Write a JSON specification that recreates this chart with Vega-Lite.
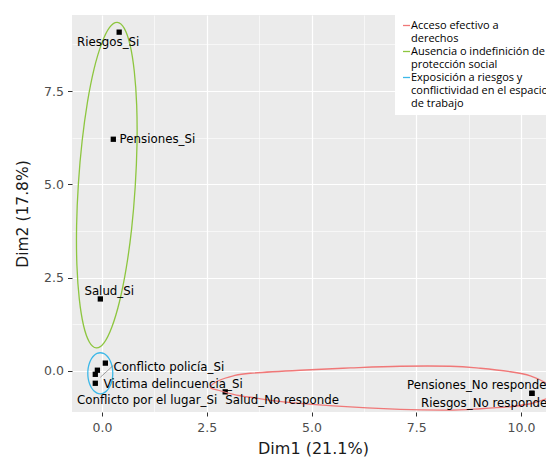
{
  "$schema": "https://vega.github.io/schema/vega-lite/v6.json",
  "autosize": {"type": "none"},
  "padding": {"left": 72, "top": 15, "right": 0, "bottom": 45},
  "width": 474,
  "height": 397,
  "background": "white",
  "config": {
    "view": {"fill": "#EBEBEB", "stroke": null}
  },
  "datasets": {
    "ellipses": [
      {"g": "Acceso efectivo a derechos", "o": 1, "x": 2.585, "y": -0.437},
      {"g": "Acceso efectivo a derechos", "o": 2, "x": 2.776, "y": -0.263},
      {"g": "Acceso efectivo a derechos", "o": 3, "x": 3.134, "y": -0.129},
      {"g": "Acceso efectivo a derechos", "o": 4, "x": 3.539, "y": -0.062},
      {"g": "Acceso efectivo a derechos", "o": 5, "x": 4.733, "y": 0.019},
      {"g": "Acceso efectivo a derechos", "o": 6, "x": 5.926, "y": 0.08},
      {"g": "Acceso efectivo a derechos", "o": 7, "x": 7.119, "y": 0.126},
      {"g": "Acceso efectivo a derechos", "o": 8, "x": 8.313, "y": 0.126},
      {"g": "Acceso efectivo a derechos", "o": 9, "x": 9.029, "y": 0.072},
      {"g": "Acceso efectivo a derechos", "o": 10, "x": 9.745, "y": -0.021},
      {"g": "Acceso efectivo a derechos", "o": 11, "x": 10.222, "y": -0.129},
      {"g": "Acceso efectivo a derechos", "o": 12, "x": 10.604, "y": -0.33},
      {"g": "Acceso efectivo a derechos", "o": 13, "x": 10.795, "y": -0.531},
      {"g": "Acceso efectivo a derechos", "o": 14, "x": 10.747, "y": -0.651},
      {"g": "Acceso efectivo a derechos", "o": 15, "x": 10.604, "y": -0.745},
      {"g": "Acceso efectivo a derechos", "o": 16, "x": 10.222, "y": -0.879},
      {"g": "Acceso efectivo a derechos", "o": 17, "x": 9.673, "y": -0.965},
      {"g": "Acceso efectivo a derechos", "o": 18, "x": 9.029, "y": -1.013},
      {"g": "Acceso efectivo a derechos", "o": 19, "x": 8.241, "y": -1.048},
      {"g": "Acceso efectivo a derechos", "o": 20, "x": 7.119, "y": -1.027},
      {"g": "Acceso efectivo a derechos", "o": 21, "x": 5.52, "y": -0.938},
      {"g": "Acceso efectivo a derechos", "o": 22, "x": 4.327, "y": -0.831},
      {"g": "Acceso efectivo a derechos", "o": 23, "x": 3.539, "y": -0.705},
      {"g": "Acceso efectivo a derechos", "o": 24, "x": 3.134, "y": -0.625},
      {"g": "Acceso efectivo a derechos", "o": 25, "x": 2.776, "y": -0.517},

      {"g": "Ausencia o indefinición de protección social", "o": 1, "x": 0.365, "y": 9.341},
      {"g": "Ausencia o indefinición de protección social", "o": 2, "x": 0.532, "y": 9.18},
      {"g": "Ausencia o indefinición de protección social", "o": 3, "x": 0.671, "y": 8.732},
      {"g": "Ausencia o indefinición de protección social", "o": 4, "x": 0.771, "y": 8.027},
      {"g": "Ausencia o indefinición de protección social", "o": 5, "x": 0.828, "y": 7.118},
      {"g": "Ausencia o indefinición de protección social", "o": 6, "x": 0.835, "y": 6.062},
      {"g": "Ausencia o indefinición de protección social", "o": 7, "x": 0.792, "y": 4.93},
      {"g": "Ausencia o indefinición de protección social", "o": 8, "x": 0.706, "y": 3.802},
      {"g": "Ausencia o indefinición de protección social", "o": 9, "x": 0.578, "y": 2.756},
      {"g": "Ausencia o indefinición de protección social", "o": 10, "x": 0.418, "y": 1.861},
      {"g": "Ausencia o indefinición de protección social", "o": 11, "x": 0.236, "y": 1.177},
      {"g": "Ausencia o indefinición de protección social", "o": 12, "x": 0.048, "y": 0.751},
      {"g": "Ausencia o indefinición de protección social", "o": 13, "x": -0.136, "y": 0.617},
      {"g": "Ausencia o indefinición de protección social", "o": 14, "x": -0.303, "y": 0.777},
      {"g": "Ausencia o indefinición de protección social", "o": 15, "x": -0.442, "y": 1.225},
      {"g": "Ausencia o indefinición de protección social", "o": 16, "x": -0.542, "y": 1.93},
      {"g": "Ausencia o indefinición de protección social", "o": 17, "x": -0.599, "y": 2.839},
      {"g": "Ausencia o indefinición de protección social", "o": 18, "x": -0.606, "y": 3.895},
      {"g": "Ausencia o indefinición de protección social", "o": 19, "x": -0.563, "y": 5.027},
      {"g": "Ausencia o indefinición de protección social", "o": 20, "x": -0.475, "y": 6.156},
      {"g": "Ausencia o indefinición de protección social", "o": 21, "x": -0.348, "y": 7.201},
      {"g": "Ausencia o indefinición de protección social", "o": 22, "x": -0.189, "y": 8.097},
      {"g": "Ausencia o indefinición de protección social", "o": 23, "x": -0.007, "y": 8.78},
      {"g": "Ausencia o indefinición de protección social", "o": 24, "x": 0.181, "y": 9.207},

      {"g": "Exposición a riesgos y conflictividad en el espacio de trabajo", "o": 1, "x": 0.257, "y": -0.062},
      {"g": "Exposición a riesgos y conflictividad en el espacio de trabajo", "o": 2, "x": 0.247, "y": 0.08},
      {"g": "Exposición a riesgos y conflictividad en el espacio de trabajo", "o": 3, "x": 0.217, "y": 0.213},
      {"g": "Exposición a riesgos y conflictividad en el espacio de trabajo", "o": 4, "x": 0.17, "y": 0.327},
      {"g": "Exposición a riesgos y conflictividad en el espacio de trabajo", "o": 5, "x": 0.108, "y": 0.414},
      {"g": "Exposición a riesgos y conflictividad en el espacio de trabajo", "o": 6, "x": 0.036, "y": 0.469},
      {"g": "Exposición a riesgos y conflictividad en el espacio de trabajo", "o": 7, "x": -0.041, "y": 0.488},
      {"g": "Exposición a riesgos y conflictividad en el espacio de trabajo", "o": 8, "x": -0.118, "y": 0.469},
      {"g": "Exposición a riesgos y conflictividad en el espacio de trabajo", "o": 9, "x": -0.19, "y": 0.414},
      {"g": "Exposición a riesgos y conflictividad en el espacio de trabajo", "o": 10, "x": -0.252, "y": 0.327},
      {"g": "Exposición a riesgos y conflictividad en el espacio de trabajo", "o": 11, "x": -0.299, "y": 0.213},
      {"g": "Exposición a riesgos y conflictividad en el espacio de trabajo", "o": 12, "x": -0.329, "y": 0.08},
      {"g": "Exposición a riesgos y conflictividad en el espacio de trabajo", "o": 13, "x": -0.339, "y": -0.062},
      {"g": "Exposición a riesgos y conflictividad en el espacio de trabajo", "o": 14, "x": -0.329, "y": -0.204},
      {"g": "Exposición a riesgos y conflictividad en el espacio de trabajo", "o": 15, "x": -0.299, "y": -0.337},
      {"g": "Exposición a riesgos y conflictividad en el espacio de trabajo", "o": 16, "x": -0.252, "y": -0.451},
      {"g": "Exposición a riesgos y conflictividad en el espacio de trabajo", "o": 17, "x": -0.19, "y": -0.538},
      {"g": "Exposición a riesgos y conflictividad en el espacio de trabajo", "o": 18, "x": -0.118, "y": -0.593},
      {"g": "Exposición a riesgos y conflictividad en el espacio de trabajo", "o": 19, "x": -0.041, "y": -0.612},
      {"g": "Exposición a riesgos y conflictividad en el espacio de trabajo", "o": 20, "x": 0.036, "y": -0.593},
      {"g": "Exposición a riesgos y conflictividad en el espacio de trabajo", "o": 21, "x": 0.108, "y": -0.538},
      {"g": "Exposición a riesgos y conflictividad en el espacio de trabajo", "o": 22, "x": 0.17, "y": -0.451},
      {"g": "Exposición a riesgos y conflictividad en el espacio de trabajo", "o": 23, "x": 0.217, "y": -0.337},
      {"g": "Exposición a riesgos y conflictividad en el espacio de trabajo", "o": 24, "x": 0.247, "y": -0.204}
    ],
    "points": [
      {"n": "Riesgos_Si", "x": 0.41, "y": 9.08},
      {"n": "Pensiones_Si", "x": 0.27, "y": 6.21},
      {"n": "Salud_Si", "x": -0.04, "y": 1.93},
      {"n": "Conflicto policía_Si", "x": 0.08, "y": 0.21},
      {"n": "Victima delincuencia_Si", "x": -0.11, "y": 0.02},
      {"n": "", "x": -0.16, "y": -0.09},
      {"n": "Conflicto por el lugar_Si", "x": -0.16, "y": -0.33},
      {"n": "Salud_No responde", "x": 2.94, "y": -0.56},
      {"n": "Pensiones_No responde", "x": 10.26, "y": -0.6},
      {"n": "Riesgos_No responde", "x": 10.26, "y": -0.6}
    ],
    "labels": [
      {"t": "Riesgos_Si", "x": -0.597, "y": 8.81},
      {"t": "Pensiones_Si", "x": 0.42, "y": 6.21},
      {"t": "Salud_Si", "x": -0.42, "y": 2.14},
      {"t": "Conflicto policía_Si", "x": 0.277, "y": 0.107},
      {"t": "Victima delincuencia_Si", "x": 0.038, "y": -0.338},
      {"t": "Conflicto por el lugar_Si", "x": -0.597, "y": -0.786},
      {"t": "Salud_No responde", "x": 2.943, "y": -0.786},
      {"t": "Pensiones_No responde", "x": 7.279, "y": -0.383},
      {"t": "Riesgos_No responde", "x": 7.613, "y": -0.858}
    ],
    "segments": [
      {"x": -0.04, "y": -0.17, "x2": 0.27, "y2": 0.15}
    ]
  },
  "layer": [
    {
      "data": {"name": "points"},
      "mark": {"type": "square", "size": 28, "color": "black", "opacity": 1, "filled": true},
      "encoding": {
        "x": {
          "field": "x", "type": "quantitative", "title": "Dim1 (21.1%)",
          "scale": {"domain": [-0.716, 10.596], "nice": false, "zero": false},
          "axis": {
            "values": [0, 1.25, 2.5, 3.75, 5, 6.25, 7.5, 8.75, 10],
            "labelExpr": "datum.value % 2.5 == 0 ? format(datum.value, '.1f') : ''",
            "grid": true, "gridColor": "white",
            "gridWidth": {"condition": {"test": "datum.value % 2.5 == 0", "value": 1.2}, "value": 0.6},
            "tickColor": {"condition": {"test": "datum.value % 2.5 == 0", "value": "#333333"}, "value": "transparent"},
            "domain": false, "tickSize": 4, "tickWidth": 1,
            "labelFont": "DejaVu Sans", "labelFontSize": 12.5, "labelColor": "#4D4D4D", "labelPadding": 5,
            "labelOverlap": false, "labelFlush": false,
            "titleFont": "DejaVu Sans", "titleFontSize": 16, "titleFontWeight": "normal", "titleColor": "#1a1a1a", "titlePadding": 7,
            "titleX": 241
          }
        },
        "y": {
          "field": "y", "type": "quantitative", "title": "Dim2 (17.8%)",
          "scale": {"domain": [-1.1, 9.54], "nice": false, "zero": false},
          "axis": {
            "values": [0, 1.25, 2.5, 3.75, 5, 6.25, 7.5, 8.75],
            "labelExpr": "datum.value % 2.5 == 0 ? format(datum.value, '.1f') : ''",
            "grid": true, "gridColor": "white",
            "gridWidth": {"condition": {"test": "datum.value % 2.5 == 0", "value": 1.2}, "value": 0.6},
            "tickColor": {"condition": {"test": "datum.value % 2.5 == 0", "value": "#333333"}, "value": "transparent"},
            "domain": false, "tickSize": 4.5, "tickWidth": 1,
            "labelFont": "DejaVu Sans", "labelFontSize": 12.5, "labelColor": "#4D4D4D", "labelPadding": 4,
            "labelOverlap": false, "labelFlush": false,
            "titleFont": "DejaVu Sans", "titleFontSize": 15.5, "titleFontWeight": "normal", "titleColor": "#1a1a1a", "titlePadding": 13
          }
        }
      }
    },
    {
      "mark": {"type": "rule", "color": "black", "strokeWidth": 1.1, "strokeDash": [4, 3]},
      "encoding": {"x": {"datum": 0, "type": "quantitative", "title": "Dim1 (21.1%)", "scale": {"domain": [-0.716, 10.596], "nice": false, "zero": false}}}
    },
    {
      "mark": {"type": "rule", "color": "black", "strokeWidth": 1.1, "strokeDash": [4, 3]},
      "encoding": {"y": {"datum": 0, "type": "quantitative", "title": "Dim2 (17.8%)", "scale": {"domain": [-1.1, 9.54], "nice": false, "zero": false}}}
    },
    {
      "data": {"name": "ellipses"},
      "mark": {"type": "line", "interpolate": "cardinal-closed", "strokeWidth": 1.3, "clip": true},
      "encoding": {
        "x": {"field": "x", "type": "quantitative", "title": "Dim1 (21.1%)", "scale": {"domain": [-0.716, 10.596], "nice": false, "zero": false}},
        "y": {"field": "y", "type": "quantitative", "title": "Dim2 (17.8%)", "scale": {"domain": [-1.1, 9.54], "nice": false, "zero": false}},
        "order": {"field": "o", "type": "quantitative"},
        "color": {
          "field": "g", "type": "nominal",
          "scale": {
            "domain": ["Acceso efectivo a derechos", "Ausencia o indefinición de protección social", "Exposición a riesgos y conflictividad en el espacio de trabajo"],
            "range": ["#F07878", "#8DC63F", "#3DB8E8"]
          },
          "legend": {
            "title": null, "orient": "none", "legendX": 323, "legendY": -1,
            "fillColor": "white", "padding": 6,
            "symbolType": "stroke", "symbolSize": 49, "symbolStrokeWidth": 1.3,
            "labelFont": "Open Sans", "labelFontSize": 11, "labelColor": "black",
            "labelLimit": 400, "labelOffset": -1, "rowPadding": 1,
            "labelExpr": "datum.label == 'Acceso efectivo a derechos' ? ['Acceso efectivo a', 'derechos'] : datum.label == 'Ausencia o indefinición de protección social' ? ['Ausencia o indefinición de', 'protección social'] : ['Exposición a riesgos y', 'conflictividad en el espacio', 'de trabajo']"
          }
        }
      }
    },
    {
      "data": {"name": "segments"},
      "mark": {"type": "rule", "color": "#666666", "strokeWidth": 0.6},
      "encoding": {
        "x": {"field": "x", "type": "quantitative", "title": "Dim1 (21.1%)", "scale": {"domain": [-0.716, 10.596], "nice": false, "zero": false}},
        "y": {"field": "y", "type": "quantitative", "title": "Dim2 (17.8%)", "scale": {"domain": [-1.1, 9.54], "nice": false, "zero": false}},
        "x2": {"field": "x2"},
        "y2": {"field": "y2"}
      }
    },
    {
      "data": {"name": "labels"},
      "mark": {"type": "text", "font": "DejaVu Sans", "fontSize": 11.8, "align": "left", "baseline": "middle", "color": "black"},
      "encoding": {
        "x": {"field": "x", "type": "quantitative", "title": "Dim1 (21.1%)", "scale": {"domain": [-0.716, 10.596], "nice": false, "zero": false}},
        "y": {"field": "y", "type": "quantitative", "title": "Dim2 (17.8%)", "scale": {"domain": [-1.1, 9.54], "nice": false, "zero": false}},
        "text": {"field": "t"}
      }
    }
  ]
}
